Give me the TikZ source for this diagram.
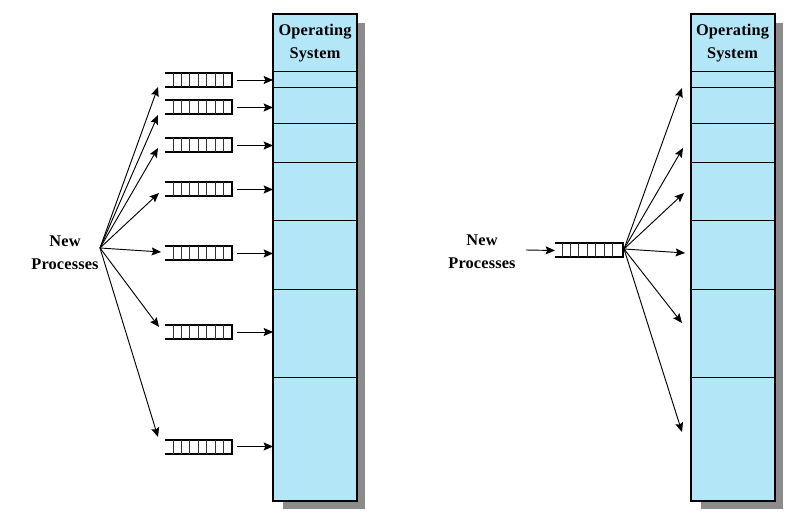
\documentclass[tikz,border=0pt]{standalone}
\usepackage{fontspec}
\setmainfont[LetterSpace=1]{Liberation Serif}
\usetikzlibrary{calc,arrows.meta}
\definecolor{memblue}{RGB}{179,231,248}
\definecolor{shadowgray}{RGB}{140,140,140}
\begin{document}
\begin{tikzpicture}[x=0.75pt,y=-0.75pt,
  lbl/.style={font=\fontsize{12.25}{17}\selectfont\bfseries, align=center, inner sep=0pt},
  part/.style={draw=black, line width=0.75pt, fill=memblue, minimum width=63pt, inner sep=0pt, outer sep=0pt},
  qbox/.style={minimum height=10.5pt, inner sep=0pt, outer sep=0pt},
  arr/.style={-{Stealth[length=7pt,width=6pt,inset=1.2pt]}, line width=0.7pt},
  qthick/.style={line width=1.5pt},
  qthin/.style={line width=0.7pt, black!80}]
\useasboundingbox (0,0) rectangle (794,528);

% memory columns
\foreach \s/\cx in {L/315, R/732.5}{
  \fill[shadowgray] (\cx-32,23) rectangle (\cx+50,509);
  \node[part, minimum height=43.5pt, lbl] (\s os) at (\cx,43) {Operating\\System};
  \node[part, minimum height=12pt] (\s p1) at (\cx,80) {};
  \node[part, minimum height=27pt] (\s p2) at (\cx,106) {};
  \node[part, minimum height=29.25pt] (\s p3) at (\cx,143.5) {};
  \node[part, minimum height=43.5pt] (\s p4) at (\cx,192) {};
  \node[part, minimum height=51pt] (\s p5) at (\cx,255) {};
  \node[part, minimum height=66pt] (\s p6) at (\cx,333) {};
  \node[part, minimum height=93pt] (\s p7) at (\cx,439) {};
  \draw[line width=1.5pt] (\s os.north west) rectangle (\s p7.south east);
}

% left queues
\foreach \i/\y in {1/80, 2/107.5, 3/145.5, 4/189.5, 5/253.5, 6/332, 7/446.5}{
  \node[qbox, minimum width=50.25pt] (q\i) at (198.5,\y) {};
  \draw[qthick] (q\i.north west) -- (q\i.north east) -- (q\i.south east) -- (q\i.south west);
  \foreach \k in {0,...,6}{
    \draw[qthin] ($(q\i.north west)+(8+\k*8.4,0)$) -- ($(q\i.south west)+(8+\k*8.4,0)$);
  }
  \draw[arr] ($(q\i.east)+(5,0)$) -- (q\i.east -| Lp\i.west);
}

% left label and fan
\node[lbl] (lnp) at (65,253) {New\\Processes};
\coordinate (lsrc) at (100,248);
\foreach \i/\tx/\ty in {1/158/87, 2/158/115, 3/158/148, 4/159/193, 5/161/252, 6/159/327, 7/158/437}{
  \coordinate (lt\i) at (\tx,\ty);
  \draw[arr] (lsrc) -- (lt\i);
}

% right queue
\node[qbox, minimum width=51pt] (rq) at (589,250.5) {};
\draw[qthick] (rq.north west) -- (rq.north east) -- (rq.south east) -- (rq.south west);
\foreach \k in {0,...,6}{
  \draw[qthin] ($(rq.north west)+(7+\k*8.4,0)$) -- ($(rq.south west)+(7+\k*8.4,0)$);
}
\node[lbl] (rnp) at (482,251.5) {New\\Processes};
\draw[arr] ($(rnp.east)+(10,-1.5)$) -- (rq.west);

% right fan
\coordinate (rsrc) at (624,249);
\foreach \i/\tx/\ty in {1/682/88, 2/683/148, 3/684/193, 4/685/253, 5/682/323, 6/682/432}{
  \coordinate (rt\i) at (\tx,\ty);
  \draw[arr] (rsrc) -- (rt\i);
}
\end{tikzpicture}
\end{document}
